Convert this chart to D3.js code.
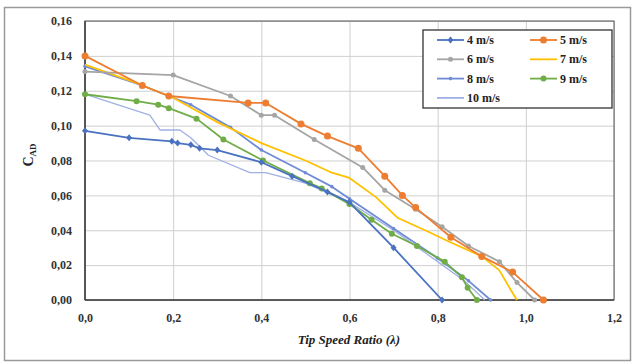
<!DOCTYPE html>
<html>
<head>
<meta charset="utf-8">
<script src="https://cdn.jsdelivr.net/npm/d3@7"></script>
<style>
  body { margin: 0; background: #fff; }
  text { font-family: "Liberation Serif", "Times New Roman", serif; font-weight: bold; }
</style>
</head>
<body>
<script>
// tip speed ratio vs C_AD, one array per wind speed
const s4 = [[0,0.097],[0.10,0.093],[0.197,0.091],[0.21,0.090],[0.24,0.089],[0.26,0.087],[0.30,0.086],[0.40,0.079],[0.47,0.071],[0.55,0.062],[0.60,0.056],[0.70,0.030],[0.81,0]];
const s5 = [[0,0.140],[0.13,0.123],[0.19,0.117],[0.37,0.113],[0.41,0.113],[0.49,0.101],[0.55,0.094],[0.62,0.087],[0.68,0.071],[0.72,0.060],[0.75,0.053],[0.83,0.036],[0.90,0.025],[0.97,0.016],[1.04,0]];
const s6 = [[0,0.131],[0.20,0.129],[0.33,0.117],[0.40,0.106],[0.43,0.106],[0.52,0.092],[0.63,0.076],[0.68,0.063],[0.75,0.052],[0.81,0.042],[0.87,0.031],[0.94,0.022],[0.98,0.010],[1.02,0]];
const s7 = [[0,0.135],[0.10,0.126],[0.20,0.116],[0.30,0.102],[0.40,0.090],[0.50,0.080],[0.56,0.073],[0.60,0.070],[0.66,0.059],[0.71,0.047],[0.78,0.039],[0.83,0.033],[0.90,0.025],[0.94,0.017],[0.97,0.004],[0.98,0]];
const s8 = [[0,0.134],[0.13,0.123],[0.19,0.117],[0.24,0.112],[0.33,0.099],[0.40,0.086],[0.50,0.073],[0.56,0.065],[0.60,0.058],[0.70,0.041],[0.80,0.024],[0.87,0.011],[0.92,0]];
const s9 = [[0,0.118],[0.117,0.114],[0.166,0.112],[0.19,0.110],[0.253,0.104],[0.314,0.092],[0.404,0.080],[0.51,0.067],[0.537,0.064],[0.60,0.055],[0.65,0.046],[0.696,0.038],[0.753,0.031],[0.816,0.022],[0.855,0.013],[0.868,0.007],[0.889,0]];
const s10 = [[0,0.118],[0.147,0.106],[0.17,0.0975],[0.215,0.0975],[0.24,0.093],[0.28,0.083],[0.374,0.073],[0.41,0.073],[0.50,0.067],[0.60,0.056],[0.70,0.040],[0.80,0.022],[0.86,0.011],[0.907,0]];

const seriesNames = ['4 m/s', '5 m/s', '6 m/s', '7 m/s', '8 m/s', '9 m/s', '10 m/s'];
const seriesData = [s4, s5, s6, s7, s8, s9, s10];
const xTicks = [0, 0.2, 0.4, 0.6, 0.8, 1.0, 1.2];
const yTicks = [0, 0.02, 0.04, 0.06, 0.08, 0.10, 0.12, 0.14, 0.16];

const colors = ['#4a72c0', '#ed7d31', '#a5a5a5', '#ffc000', '#6f8bd6', '#70ad47', '#9fb0e4'];
const markers = ['diamond', 'circle', 'circle', null, 'circle', 'circle', null];
const markerR = [3, 3.5, 2.5, 0, 1.8, 3, 0];

const W = 633, H = 363;
const svg = d3.select('body').append('svg').attr('width', W).attr('height', H);

// chart frame
svg.append('rect')
  .attr('x', 4.5).attr('y', 7.5).attr('width', 626).attr('height', 353)
  .style('fill', '#fff').style('stroke', '#9a9a9a').style('stroke-width', 1.5);

const x = d3.scaleLinear().domain([0, 1.2]).range([85, 614]);
const y = d3.scaleLinear().domain([0, 0.16]).range([300, 21]);
const comma = f => v => d3.format(f)(v).replace('.', ',');

// grid + ticks
const gx = svg.append('g').attr('transform', 'translate(0,300)')
  .call(d3.axisBottom(x).tickValues(xTicks).tickSize(-279).tickPadding(13).tickFormat(comma('.1f')));
const gy = svg.append('g').attr('transform', 'translate(85,0)')
  .call(d3.axisLeft(y).tickValues(yTicks).tickSize(-529).tickPadding(13).tickFormat(comma('.2f')));
[gx, gy].forEach(g => {
  g.select('.domain').remove();
  g.selectAll('line').style('stroke', '#cfcfcf').style('stroke-width', 1);
  g.selectAll('text').style('font-size', '12px').style('fill', '#333')
    .style('font-family', '"Liberation Serif", serif').style('font-weight', 'bold');
});

// plot border
svg.append('rect')
  .attr('x', 85).attr('y', 21).attr('width', 529).attr('height', 279)
  .style('fill', 'none').style('stroke', '#555').style('stroke-width', 1);
svg.append('line').attr('x1', 85).attr('x2', 85).attr('y1', 21).attr('y2', 300)
  .style('stroke', '#444').style('stroke-width', 1.6);
svg.append('line').attr('x1', 85).attr('x2', 614).attr('y1', 300).attr('y2', 300)
  .style('stroke', '#444').style('stroke-width', 1.6);

const line = d3.line().x(d => x(d[0])).y(d => y(d[1]));

function drawMarker(g, type, cx, cy, r, color) {
  if (type === 'diamond') {
    g.append('path')
      .attr('d', `M${cx},${cy - r - 0.5}L${cx + r},${cy}L${cx},${cy + r + 0.5}L${cx - r},${cy}Z`)
      .style('fill', color);
  } else if (type === 'circle') {
    g.append('circle').attr('cx', cx).attr('cy', cy).attr('r', r).style('fill', color);
  }
}

// draw back to front so 4 m/s and 5 m/s sit on top
const order = [6, 4, 3, 2, 5, 0, 1];
order.forEach(i => {
  const g = svg.append('g');
  g.append('path').datum(seriesData[i]).attr('d', line)
    .style('fill', 'none').style('stroke', colors[i])
    .style('stroke-width', i === 6 ? 1.3 : 1.8)
    .style('stroke-linejoin', 'round');
  if (markers[i]) {
    seriesData[i].forEach(d => drawMarker(g, markers[i], x(d[0]), y(d[1]), markerR[i], colors[i]));
  }
});

// legend
const lg = svg.append('g');
lg.append('rect').attr('x', 423).attr('y', 30).attr('width', 189).attr('height', 78)
  .style('fill', '#fff').style('stroke', '#333').style('stroke-width', 1.3);
seriesNames.forEach((name, i) => {
  const col = i % 2, row = Math.floor(i / 2);
  const lx = col === 0 ? 437 : 530;
  const ly = 40 + row * 19.3;
  lg.append('line').attr('x1', lx).attr('x2', lx + 27).attr('y1', ly).attr('y2', ly)
    .style('stroke', colors[i]).style('stroke-width', 1.8);
  if (markers[i]) drawMarker(lg, markers[i], lx + 13.5, ly, markerR[i], colors[i]);
  lg.append('text').attr('x', lx + 30).attr('y', ly + 4)
    .style('font-size', '12px').style('fill', '#222').text(name);
});

// axis titles
svg.append('text')
  .attr('x', 349).attr('y', 344).attr('text-anchor', 'middle')
  .style('font-size', '13px').style('font-style', 'italic').style('fill', '#222')
  .text('Tip Speed Ratio (λ)');

const yt = svg.append('text')
  .attr('transform', 'translate(33,155) rotate(-90)')
  .attr('text-anchor', 'middle').style('fill', '#222');
yt.append('tspan').style('font-size', '14px').text('C');
yt.append('tspan').attr('dy', 3).style('font-size', '9px').text('AD');
</script>
</body>
</html>
